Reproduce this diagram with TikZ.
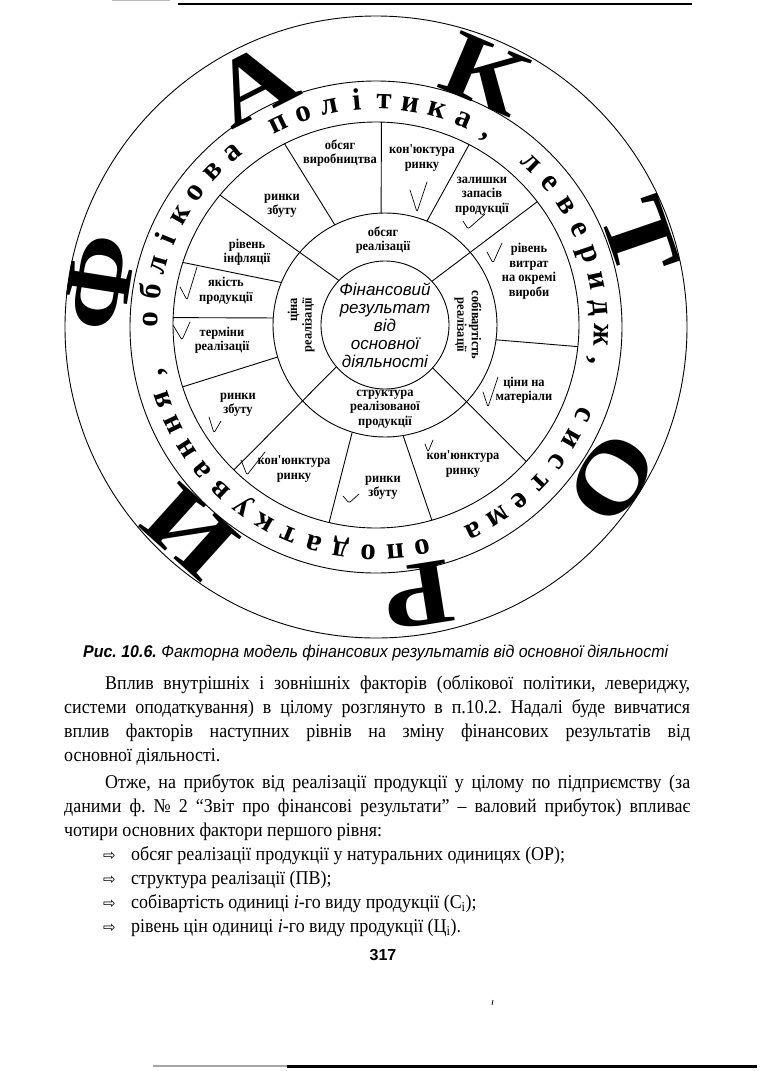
\documentclass[tikz,border=0pt]{standalone}
\usepackage{fontspec}
\setmainfont{Liberation Serif}
\newfontfamily\bodyf[FakeStretch=0.92]{Liberation Serif}
\newfontfamily\labf[FakeStretch=0.92]{Liberation Serif}
\newfontfamily\bigf[FakeStretch=1.2]{Liberation Serif}
\newfontfamily\sansf{Liberation Sans}
\newfontfamily\symf{DejaVu Sans}
\usetikzlibrary{calc}
\frenchspacing
\newsavebox\jbox
\newlength\jlen
\newcommand\hfit[2]{\sbox\jbox{#2}\setlength\jlen{\wd\jbox}\pgfmathsetmacro\jsx{#1/\jlen}\scalebox{\jsx}[1]{\usebox\jbox}}
\newcommand\jl[2]{\sbox\jbox{#2}\ifdim\wd\jbox>#1\relax\hfit{#1}{#2}\else\makebox[#1][s]{#2}\fi}
\tikzset{
  ring/.style={line width=0.9pt},
  lab/.style={font=\labf\fontsize{13.5}{14.5}\selectfont\bfseries, align=center, inner sep=0pt},
  ctext/.style={font=\sansf\itshape\fontsize{17}{18}\selectfont, align=center, inner sep=0pt},
  bandch/.style={font=\fontsize{31}{31}\selectfont\bfseries, anchor=base, inner sep=0pt},
  bigl/.style={font=\bigf\fontsize{94}{94}\selectfont\bfseries, inner sep=0pt},
  tick/.style={line width=0.7pt, line cap=round, line join=round, rounded corners=2pt},
  body/.style={font=\bodyf\fontsize{19.5}{23.5}\selectfont, anchor=base west, inner sep=0pt},
  capt/.style={font=\sansf\itshape\fontsize{17}{20}\selectfont, anchor=base west, inner sep=0pt},
  arr/.style={font=\symf\fontsize{15}{15}\selectfont, anchor=base west, inner sep=0pt}
}
\begin{document}
\begin{tikzpicture}[x=1pt,y=1pt]
\useasboundingbox (0,0) rectangle (782,-1071);
\fill[white] (0,0) rectangle (782,-1071);
% page rules
\draw[gray!55, line width=0.8pt] (112,-0.8) -- (170,-0.8);
\draw[line width=2.2pt] (178,-4) -- (692,-4);
\draw[gray!70, line width=1.2pt] (153,-1066) -- (287,-1066);
\draw[line width=3pt] (287,-1066) -- (757,-1066);
\draw[line width=0.8pt] (493,-1000) -- (492,-1005);
% centres
\coordinate (C0) at (376,-327);
\coordinate (Cs) at (376,-325);
\coordinate (Ci) at (385,-325);
% rings
\draw[ring] (C0) circle (311pt);
\draw[ring] (C0) circle (246pt);
\draw[ring] (Cs) circle (203pt);
\draw[ring] (Ci) circle (112pt);
\draw[ring] (Ci) circle (64pt);
% spokes
\foreach \ai/\ao/\ri in {92/91/112, 68/65/112, 43/39/64, -7.6/-6.4/112, -42/-44/64, -80.7/-76.5/112, -107/-105.8/112, 220.7/223.8/64, 196.6/197/112, 176.4/178/112, 157.7/162.8/112, 136/141.8/64, 116.6/119/112}
  \draw[ring] ($(Ci)+(\ai:\ri)$) -- ($(Ci)+(\ao:{203-9*cos(\ao)})$);
% band text
\foreach \ch [count=\k from 0, evaluate=\k as \a using {178-6.9231*\k}] in {о,б,л,і,к,о,в,а,{},п,о,л,і,т,и,к,а,{,},{},л,е,в,е,р,и,д,ж,{,},{},с,и,с,т,е,м,а,{},о,п,о,д,а,т,к,у,в,а,н,н,я,{,}}
  \node[bandch, rotate=\a-90] (band\k) at ($(C0)+(\a:218)$) {\ch};
% big letters
\node[bigl, rotate=81] (bF) at (100,-283) {Ф};
\node[bigl, rotate=27] (bA) at (254,-84) {А};
\node[bigl, rotate=-23] (bK) at (485,-74) {К};
\node[bigl, rotate=-71] (bT) at (640,-237) {Т};
\node[bigl, rotate=-123] (bO) at (612,-478) {О};
\node[bigl, rotate=-171] (bR) at (418,-595) {Р};
\node[bigl, rotate=138] (bI) at (190,-532) {И};
% centre
\node[ctext] (centre) at (385,-325) {Фінансовий\\результат\\від\\основної\\діяльності};
% middle ring
\node[lab] (m1) at (383,-240) {обсяг\\реалізації};
\node[lab] (m2) at (385,-409) {структура\\реалізованої\\продукції};
\node[lab, rotate=90, align=right] (m3) at (301,-325) {ціна\\реалізації};
\node[lab, rotate=-90] (m4) at (468,-325) {собівартість\\реалізації};
% sector ring
\node[lab] (s1) at (340,-153) {обсяг\\виробництва};
\node[lab] (s2) at (422,-158) {кон'юктура\\ринку};
\node[lab] (s3) at (482,-196) {залишки\\запасів\\продукції};
\node[lab] (s4) at (529,-271) {рівень\\витрат\\на окремі\\вироби};
\node[lab] (s5) at (524,-390) {ціни на\\матеріали};
\node[lab] (s6) at (463,-464) {кон'юнктура\\ринку};
\node[lab] (s7) at (383,-488) {ринки\\збуту};
\node[lab] (s8) at (294,-469) {кон'юнктура\\ринку};
\node[lab] (s9) at (238,-405) {ринки\\збуту};
\node[lab] (s10) at (222,-340) {терміни\\реалізації};
\node[lab] (s11) at (226,-291) {якість\\продукції};
\node[lab] (s12) at (247,-252) {рівень\\інфляції};
\node[lab] (s13) at (282,-206) {ринки\\збуту};
% hand ticks
\draw[tick] (410,-190) -- (417,-212) -- (427,-182);
\draw[tick] (463,-221) -- (468,-229) -- (485,-214);
\draw[tick] (487,-252) -- (493,-263) -- (502,-243);
\draw[tick] (483,-392) -- (488,-407) -- (498,-377);
\draw[tick] (425,-444) -- (428,-452) -- (433,-440);
\draw[tick] (343,-496) -- (349,-503) -- (359,-494);
\draw[tick] (241,-460) -- (247,-475) -- (265,-452);
\draw[tick] (209,-417) -- (214,-433) -- (221,-421);
\draw[tick] (173,-325) -- (182,-340) -- (190,-322);
\draw[tick] (180,-287) -- (187,-300) -- (197,-267);
% caption
\node[capt] (cap) at (83,-657) {\hfit{585pt}{\bfseries Рис. 10.6.\mdseries{} Факторна модель фінансових результатів від основної діяльності}};
% body text
\node[body] (l1) at (105,-689) {\jl{585pt}{Вплив внутрішніх і зовнішніх факторів (облікової політики, левериджу,}};
\node[body] (l2) at (64,-713) {\jl{626pt}{системи оподаткування) в цілому розглянуто в п.10.2. Надалі буде вивчатися}};
\node[body] (l3) at (64,-737) {\jl{626pt}{вплив факторів наступних рівнів на зміну фінансових результатів від}};
\node[body] (l4) at (64,-761) {основної діяльності.};
\node[body] (l5) at (105,-788) {\jl{585pt}{Отже, на прибуток від реалізації продукції у цілому по підприємству (за}};
\node[body] (l6) at (64,-812) {\jl{626pt}{даними ф. № 2 “Звіт про фінансові результати” – валовий прибуток) впливає}};
\node[body] (l7) at (64,-836) {чотири основних фактори першого рівня:};
\node[arr] (a1) at (103,-860) {⇨};
\node[body] (b1) at (131,-860) {обсяг реалізації продукції у натуральних одиницях (ОР);};
\node[arr] (a2) at (103,-884) {⇨};
\node[body] (b2) at (131,-884) {структура реалізації (ПВ);};
\node[arr] (a3) at (103,-908) {⇨};
\node[body] (b3) at (131,-908) {собівартість одиниці \textit{i}-го виду продукції (С\textsubscript{і});};
\node[arr] (a4) at (103,-932) {⇨};
\node[body] (b4) at (131,-932) {рівень цін одиниці \textit{i}-го виду продукції (Ц\textsubscript{і}).};
\node[font=\sansf\bfseries\fontsize{16}{16}\selectfont, anchor=base, inner sep=0pt] (pg) at (383,-960) {317};
\end{tikzpicture}
\end{document}
